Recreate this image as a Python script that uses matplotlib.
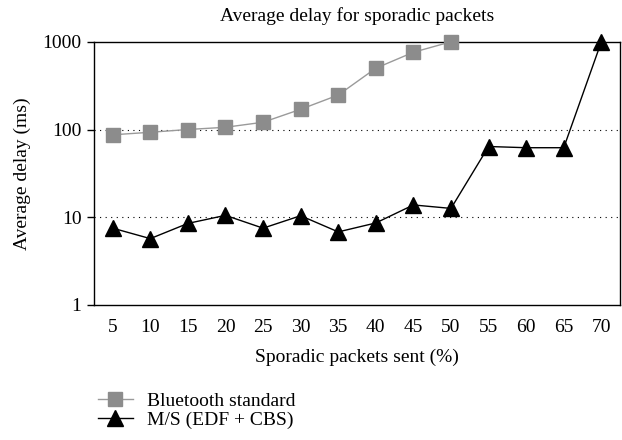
import matplotlib
matplotlib.use("Agg")
import matplotlib.pyplot as plt
from matplotlib.ticker import FixedLocator, NullLocator

# data
sent = ["5", "10", "15", "20", "25", "30", "35", "40", "45", "50", "55", "60", "65", "70"]
bluetooth = [87, 93, 100, 106, 121, 170, 247, 500, 760, 1000]
ms_edf_cbs = [7.5, 5.7, 8.5, 10.5, 7.5, 10.4, 6.8, 8.6, 13.8, 12.6, 64, 62, 62, 1000]

plt.rcParams["font.family"] = ["Liberation Serif", "DejaVu Serif"]

fig = plt.figure(figsize=(6.22, 4.40), dpi=100)
ax = fig.add_axes([0.151, 0.307, 0.846, 0.598])

x_all = list(range(len(sent)))
ax.plot(x_all[:len(bluetooth)], bluetooth, color="#9a9a9a", linewidth=1.0,
        marker="s", markersize=10, markerfacecolor="#8c8c8c", markeredgecolor="#8c8c8c",
        label="Bluetooth standard", zorder=3, clip_on=False)
ax.plot(x_all, ms_edf_cbs, color="black", linewidth=1.0,
        marker="^", markersize=11, markerfacecolor="black",
        label="M/S (EDF + CBS)", zorder=4, clip_on=False)

ax.set_yscale("log")
ax.set_ylim(1, 1000)
ax.set_xlim(-0.5, len(sent) - 0.5)
ax.yaxis.set_major_locator(FixedLocator([1, 10, 100, 1000]))
ax.yaxis.set_minor_locator(NullLocator())
ax.set_yticklabels(["1", "10", "100", "1000"])
ax.set_xticks(x_all)
ax.set_xticklabels(sent)
ax.tick_params(axis="x", length=0, pad=10, labelsize=14)
ax.tick_params(axis="y", length=5, width=1, labelsize=14, pad=4)

for v in (10, 100):
    ax.axhline(v, color="black", linestyle=(0, (1, 4)), linewidth=0.8, zorder=1)

for s in ax.spines.values():
    s.set_linewidth(1.0)

ax.set_title("Average delay for sporadic packets", fontsize=14, pad=15)
ax.set_xlabel("Sporadic packets sent (%)", fontsize=14, labelpad=9)
ax.set_ylabel("Average delay (ms)", fontsize=14, labelpad=8)

fig.legend(loc="upper left", bbox_to_anchor=(0.145, 0.127), frameon=False,
           fontsize=14, handlelength=1.8, handletextpad=0.7,
           borderaxespad=0, labelspacing=0.08)

fig.savefig("out.png", dpi=100)
